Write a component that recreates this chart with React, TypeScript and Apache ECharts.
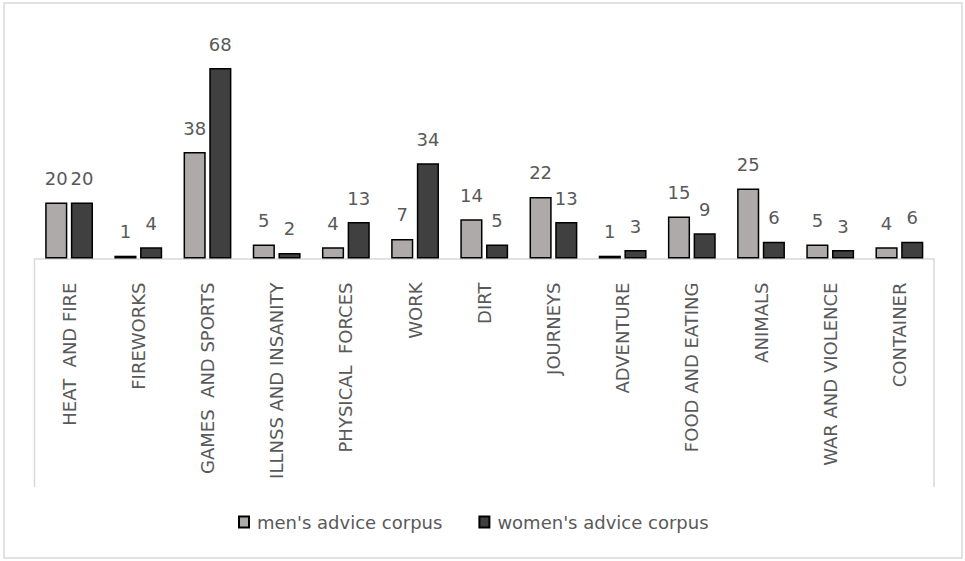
import React, { useEffect, useRef } from "react";
import * as echarts from "echarts";

const categories = [
  "HEAT  AND FIRE",
  "FIREWORKS",
  "GAMES  AND SPORTS",
  "ILLNSS AND INSANITY",
  "PHYSICAL  FORCES",
  "WORK",
  "DIRT",
  "JOURNEYS",
  "ADVENTURE",
  "FOOD AND EATING",
  "ANIMALS",
  "WAR AND VIOLENCE",
  "CONTAINER",
];
const menValues = [20, 1, 38, 5, 4, 7, 14, 22, 1, 15, 25, 5, 4];
const womenValues = [20, 4, 68, 2, 13, 34, 5, 13, 3, 9, 6, 3, 6];
const seriesNames = ["men's advice corpus", "women's advice corpus"];

const FONT = "'DejaVu Sans', sans-serif";
const TEXT = "#595959";

export default function App() {
  const ref = useRef<HTMLDivElement>(null);
  useEffect(() => {
    document.body.style.margin = "0";
    if (!ref.current) return;
    const chart = echarts.init(ref.current, undefined, { renderer: "svg" });
    const W = 965;
    const H = 561;
    const gridLeft = 34.5;
    const gridRight = 31;
    const baseY = 258.5;
    const boxBottom = 487;
    const labelCommon = {
      show: true,
      position: "top" as const,
      distance: 15,
      color: TEXT,
      fontSize: 18,
      fontFamily: FONT,
    };
    chart.setOption({
      animation: false,
      backgroundColor: "#ffffff",
      textStyle: { fontFamily: FONT },
      grid: {
        left: gridLeft,
        right: gridRight,
        top: baseY - 80 * 2.8,
        bottom: H - baseY,
        containLabel: false,
      },
      legend: {
        data: seriesNames,
        left: 233,
        top: 508,
        itemWidth: 10,
        itemHeight: 11,
        itemGap: 36,
        icon: "rect",
        textStyle: { color: TEXT, fontSize: 18, fontFamily: FONT, padding: [0, 0, 0, 3] },
      },
      xAxis: {
        type: "category",
        data: categories,
        axisLine: { show: true, lineStyle: { color: "#d9d9d9", width: 1.5 } },
        axisTick: { show: false },
        axisLabel: {
          rotate: 90,
          margin: 24,
          interval: 0,
          color: TEXT,
          fontSize: 18,
          fontFamily: FONT,
        },
      },
      yAxis: {
        type: "value",
        min: 0,
        max: 80,
        show: false,
        splitLine: { show: false },
      },
      series: [
        {
          name: seriesNames[0],
          type: "bar",
          data: menValues,
          barWidth: "32%",
          barGap: "16%",
          itemStyle: { color: "#aeaaaa", borderColor: "#000000", borderWidth: 1.5 },
          label: labelCommon,
        },
        {
          name: seriesNames[1],
          type: "bar",
          data: womenValues,
          barWidth: "32%",
          itemStyle: { color: "#404040", borderColor: "#000000", borderWidth: 1.5 },
          label: labelCommon,
        },
      ],
      graphic: [
        {
          type: "rect",
          silent: true,
          shape: { x: 4, y: 3, width: W - 7, height: H - 6 },
          style: { fill: "none", stroke: "#d9d9d9", lineWidth: 1.5 },
        },
        {
          type: "line",
          silent: true,
          shape: { x1: gridLeft, y1: baseY, x2: gridLeft, y2: boxBottom },
          style: { stroke: "#d9d9d9", lineWidth: 1.5 },
        },
        {
          type: "line",
          silent: true,
          shape: { x1: W - gridRight, y1: baseY, x2: W - gridRight, y2: boxBottom },
          style: { stroke: "#d9d9d9", lineWidth: 1.5 },
        },
      ],
    });
    return () => chart.dispose();
  }, []);
  return (
    <div
      ref={ref}
      style={{ position: "absolute", left: 0, top: 0, width: 965, height: 561 }}
    />
  );
}
